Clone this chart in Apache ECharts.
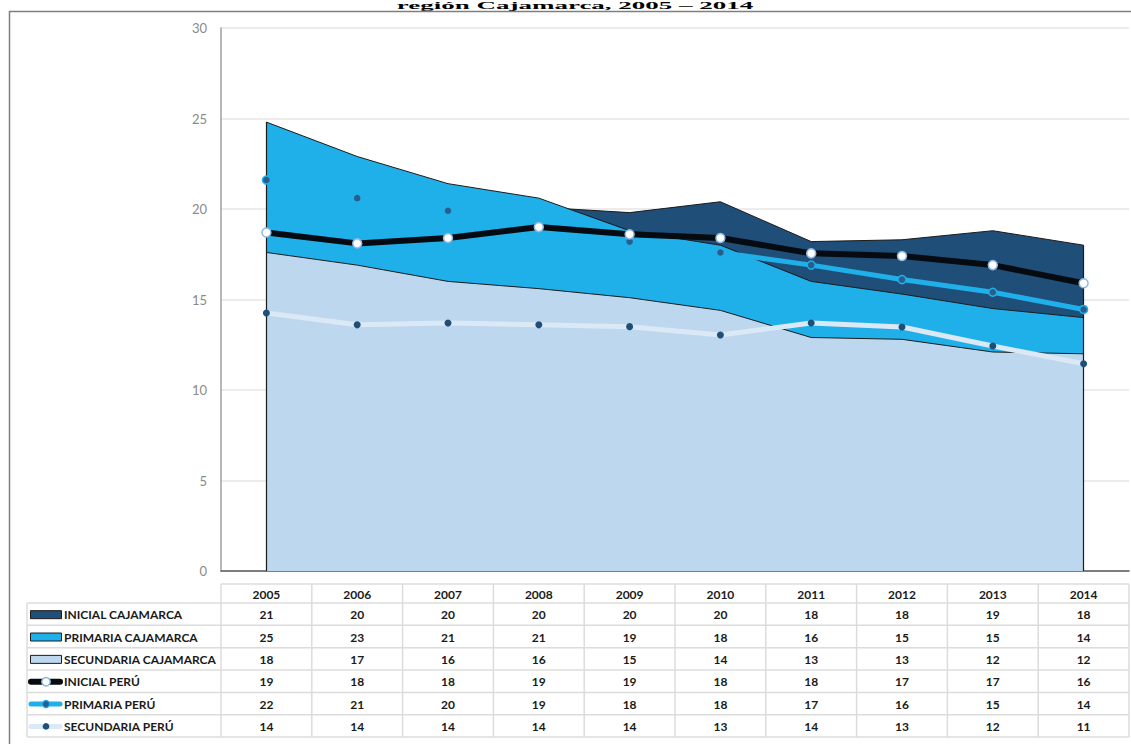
<!DOCTYPE html>
<html>
<head>
<meta charset="utf-8">
<script src="https://cdn.jsdelivr.net/npm/echarts@6/dist/echarts.min.js"></script>
<style>
html,body{margin:0;padding:0;background:#fff;}
#c{width:1131px;height:744px;}
</style>
</head>
<body>
<div id="c"></div>
<script>
// ---- data ----
var years = ['2005','2006','2007','2008','2009','2010','2011','2012','2013','2014'];
var inicialCajamarca    = [20.9, 20.3, 20.2, 20.1, 19.8, 20.4, 18.2, 18.3, 18.8, 18.0];
var primariaCajamarca   = [24.8, 22.9, 21.4, 20.6, 18.8, 18.0, 16.0, 15.3, 14.5, 14.0];
var secundariaCajamarca = [17.6, 16.9, 16.0, 15.6, 15.1, 14.4, 12.9, 12.8, 12.1, 12.0];
var inicialPeru         = [18.7, 18.1, 18.4, 19.0, 18.6, 18.4, 17.55, 17.4, 16.9, 15.9];
var primariaPeru        = [21.6, 20.6, 19.9, 19.0, 18.2, 17.6, 16.9, 16.1, 15.4, 14.45];
var secundariaPeru      = [14.25, 13.6, 13.7, 13.6, 13.5, 13.04, 13.7, 13.48, 12.43, 11.45];
// table values as printed
var tblInicialCaj    = [21,20,20,20,20,20,18,18,19,18];
var tblPrimariaCaj   = [25,23,21,21,19,18,16,15,15,14];
var tblSecundariaCaj = [18,17,16,16,15,14,13,13,12,12];
var tblInicialPeru   = [19,18,18,19,19,18,18,17,17,16];
var tblPrimariaPeru  = [22,21,20,19,18,18,17,16,15,14];
var tblSecundariaPeru= [14,14,14,14,14,13,14,13,12,11];
var seriesNames = ['INICIAL CAJAMARCA','PRIMARIA CAJAMARCA','SECUNDARIA CAJAMARCA','INICIAL PERÚ','PRIMARIA PERÚ','SECUNDARIA PERÚ'];
var yTicks = [0,5,10,15,20,25,30];
var titleText = 'región Cajamarca, 2005 – 2014';

// ---- styles ----
var C_INI = '#1f4e79', C_PRI = '#1fb0ea', C_SEC = '#bdd7ee';
var C_LINE_INI = '#060b12', C_LINE_PRI = '#1fb0ea', C_LINE_SEC = '#dbe8f5';
var FONT = 'Lato, "Open Sans", sans-serif';
var last = years.length - 1;

var chart = echarts.init(document.getElementById('c'), null, {renderer: 'svg'});

function areaSeries(name, data, color, z, extra) {
  var s = {
    name: name, type: 'line', data: data, symbol: 'none', z: z,
    lineStyle: {color: '#1b1b1b', width: 1},
    areaStyle: {color: color, opacity: 1},
    silent: true, animation: false
  };
  if (extra) for (var k in extra) s[k] = extra[k];
  return s;
}

var edgeTop0 = Math.max(inicialCajamarca[0], primariaCajamarca[0], secundariaCajamarca[0]);
var edgeTopN = Math.max(inicialCajamarca[last], primariaCajamarca[last], secundariaCajamarca[last]);

var option = {
  animation: false,
  backgroundColor: '#fff',
  grid: {left: 221, right: 2, top: 28, bottom: 173},
  xAxis: {
    type: 'category', data: years, boundaryGap: true,
    axisLine: {show: true, lineStyle: {color: '#5a5a5a', width: 1.5}},
    axisTick: {show: false}, axisLabel: {show: false}, splitLine: {show: false}
  },
  yAxis: {
    type: 'value', min: yTicks[0], max: yTicks[yTicks.length-1], interval: 5,
    axisLine: {show: true, lineStyle: {color: '#a0a0a0', width: 1.5}},
    axisTick: {show: false},
    axisLabel: {color: '#8a8a8a', fontSize: 13, fontFamily: FONT, margin: 14},
    splitLine: {show: true, lineStyle: {color: '#e6e6e6', width: 1.5}}
  },
  series: [
    areaSeries(seriesNames[0], inicialCajamarca, C_INI, 1),
    areaSeries(seriesNames[1], primariaCajamarca, C_PRI, 2),
    areaSeries(seriesNames[2], secundariaCajamarca, C_SEC, 3, {
      markLine: {
        silent: true, symbol: 'none', label: {show: false},
        lineStyle: {color: '#1b1b1b', width: 1.2, type: 'solid'},
        data: [
          [{coord: [0, 0]}, {coord: [0, edgeTop0]}],
          [{coord: [last, 0]}, {coord: [last, edgeTopN]}]
        ]
      }
    }),
    {
      name: seriesNames[3], type: 'line', data: inicialPeru,
      symbol: 'circle', symbolSize: 9,
      lineStyle: {color: C_LINE_INI, width: 6},
      itemStyle: {color: '#ffffff', borderColor: '#8fb8e0', borderWidth: 1.5},
      z: 7
    },
    {
      name: seriesNames[4], type: 'line', data: primariaPeru,
      symbol: 'circle', symbolSize: 8,
      lineStyle: {color: C_LINE_PRI, width: 5},
      itemStyle: {color: '#2a5d8c', borderColor: '#1fb0ea', borderWidth: 1.5},
      z: 6
    },
    {
      name: seriesNames[5], type: 'line', data: secundariaPeru,
      symbol: 'circle', symbolSize: 7,
      lineStyle: {color: C_LINE_SEC, width: 5},
      itemStyle: {color: '#1f4e79', borderColor: '#1f4e79', borderWidth: 0},
      z: 5
    }
  ]
};
chart.setOption(option);

// ---- data table + frame + title via graphic ----
var tableRows = [tblInicialCaj, tblPrimariaCaj, tblSecundariaCaj, tblInicialPeru, tblPrimariaPeru, tblSecundariaPeru];
var g = [];
var colW = chart.convertToPixel({xAxisIndex: 0}, 1) - chart.convertToPixel({xAxisIndex: 0}, 0);
var centers = years.map(function (y, i) { return chart.convertToPixel({xAxisIndex: 0}, i); });
var tLeft = 27, tGridL = centers[0] - colW / 2, tGridR = centers[last] + colW / 2;
var headTop = 584, rowTop = 603, rowH = 22.35;
var tBottom = rowTop + rowH * tableRows.length;
var gridC = '#dcdcdc';

g.push({type: 'line', shape: {x1: tGridL, y1: headTop, x2: tGridR, y2: headTop}, style: {stroke: gridC, lineWidth: 1.5}});
for (var r = 0; r <= tableRows.length; r++) {
  var yy = rowTop + rowH * r;
  g.push({type: 'line', shape: {x1: tLeft, y1: yy, x2: tGridR, y2: yy}, style: {stroke: gridC, lineWidth: 1.5}});
}
g.push({type: 'line', shape: {x1: tLeft, y1: rowTop, x2: tLeft, y2: tBottom}, style: {stroke: gridC, lineWidth: 1.5}});
for (var c = 0; c <= years.length; c++) {
  var xx = tGridL + colW * c;
  g.push({type: 'line', shape: {x1: xx, y1: headTop, x2: xx, y2: tBottom}, style: {stroke: gridC, lineWidth: 1.5}});
}
years.forEach(function (y, i) {
  g.push({type: 'text', x: centers[i], y: (headTop + rowTop) / 2 + 1,
    style: {text: y, fill: '#1a1a1a', font: 'bold 12px ' + FONT, align: 'center', verticalAlign: 'middle'}});
});
var areaColors = [C_INI, C_PRI, C_SEC];
tableRows.forEach(function (vals, r) {
  var cy = rowTop + rowH * r + rowH / 2 + 0.5;
  if (r < 3) {
    g.push({type: 'rect', shape: {x: 30.5, y: cy - 4, width: 31, height: 8},
      style: {fill: areaColors[r], stroke: '#1b1b1b', lineWidth: 1}});
  } else if (r === 3) {
    g.push({type: 'line', shape: {x1: 31, y1: cy, x2: 60, y2: cy}, style: {stroke: C_LINE_INI, lineWidth: 6, lineCap: 'round'}});
    g.push({type: 'circle', shape: {cx: 46, cy: cy, r: 4.2}, style: {fill: '#fff', stroke: '#8fb8e0', lineWidth: 1.5}});
  } else if (r === 4) {
    g.push({type: 'line', shape: {x1: 31, y1: cy, x2: 60, y2: cy}, style: {stroke: C_LINE_PRI, lineWidth: 5, lineCap: 'round'}});
    g.push({type: 'circle', shape: {cx: 46, cy: cy, r: 3.6}, style: {fill: '#2a5d8c', stroke: '#1fb0ea', lineWidth: 1.2}});
  } else {
    g.push({type: 'line', shape: {x1: 31, y1: cy, x2: 60, y2: cy}, style: {stroke: C_LINE_SEC, lineWidth: 5, lineCap: 'round'}});
    g.push({type: 'circle', shape: {cx: 46, cy: cy, r: 3.3}, style: {fill: '#1f4e79'}});
  }
  g.push({type: 'text', x: 64, y: cy,
    style: {text: seriesNames[r], fill: '#1a1a1a', font: 'bold 12px ' + FONT, align: 'left', verticalAlign: 'middle'}});
  vals.forEach(function (v, i) {
    g.push({type: 'text', x: centers[i], y: cy,
      style: {text: String(v), fill: '#1a1a1a', font: 'bold 12px ' + FONT, align: 'center', verticalAlign: 'middle'}});
  });
});
// title (kept fully inside the page, compressed into the strip above the frame)
g.push({type: 'text', x: 575, y: 0, scaleY: 0.4, z: 10,
  style: {text: titleText, fill: '#000', font: 'bold 27px "Liberation Serif", "DejaVu Serif", serif', align: 'center', verticalAlign: 'top'}});
g.push({type: 'polyline', z: 11, shape: {points: [[9.5, 744], [9.5, 11.5], [1131, 11.5]]},
  style: {stroke: '#7f7f7f', lineWidth: 1.5, fill: null}});

chart.setOption({graphic: g});
</script>
</body>
</html>
